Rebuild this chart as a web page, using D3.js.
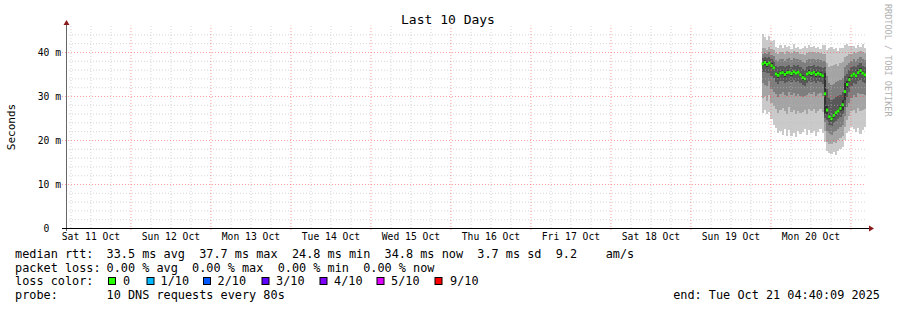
<!DOCTYPE html>
<html>
<head>
<meta charset="utf-8">
<script src="https://cdn.jsdelivr.net/npm/d3@7"></script>
<style>
body { margin: 0; background: #fff; }
text { font-family: "DejaVu Sans Mono", monospace; white-space: pre; }
</style>
</head>
<body>
<div id="chart"></div>
<script>
// time window of the graph and the step of the smoke columns
const startTime = new Date(2025, 9, 11, 4, 40, 9);
const endTime = new Date(2025, 9, 21, 4, 40, 9);
const firstStep = new Date(2025, 9, 19, 21, 20, 0);
const stepMinutes = 40;

// median rtt per step (ms)
const median = [37.3,37.6,37.2,37.5,36.9,36.4,35.0,34.7,35.2,35.3,34.9,35.3,35.4,35.1,35.5,35.2,35.4,34.8,34.2,33.9,35.0,35.3,35.1,35.4,34.9,35.2,34.9,34.6,30.5,26.8,25.3,24.8,25.6,26.2,26.6,27.2,28.0,31.0,32.6,33.7,34.6,35.0,34.6,35.3,35.8,35.2,34.8];

// the 10 sorted pings per step (ms), ping1 = fastest
const ping1 = [26.2,26.8,25.9,26.4,24.8,23.5,22.8,21.5,22.0,21.2,22.4,21.0,22.2,20.8,21.6,20.6,22.0,21.4,21.9,22.5,21.2,22.3,21.5,22.0,21.0,21.8,22.4,21.6,19.5,17.5,17.0,16.8,17.2,16.6,17.4,18.0,18.5,20.0,21.5,22.0,23.0,22.5,21.8,22.8,21.4,22.2,23.0];
const ping2 = [29.5,30.0,28.8,30.2,28.4,27.8,27.0,26.2,26.8,27.2,26.5,26.0,27.4,26.3,26.9,25.8,26.6,26.1,26.4,26.8,26.0,27.0,26.5,27.1,26.2,26.7,27.0,26.3,22.0,19.5,19.2,19.0,19.6,19.4,20.0,20.5,21.0,23.0,24.5,25.5,26.5,26.8,26.2,27.2,26.5,26.9,27.1];
const ping3 = [33.0,32.6,32.2,33.4,31.5,31.0,30.4,29.8,30.5,30.8,30.2,30.0,30.9,30.3,30.6,29.9,30.4,30.0,29.8,30.0,30.2,30.7,30.4,30.8,30.1,30.5,30.6,30.0,24.0,22.0,21.5,21.2,21.8,22.0,22.5,23.0,23.5,25.5,27.5,28.5,29.5,30.2,29.8,30.6,30.5,30.4,30.3];
const ping4 = [35.5,35.4,35.2,35.3,34.6,34.2,33.2,32.8,33.3,33.4,33.0,33.2,33.5,33.1,33.6,33.2,33.4,32.9,32.4,32.3,33.0,33.3,33.2,33.5,33.0,33.3,33.1,32.8,25.0,24.5,23.5,23.2,23.8,24.3,24.7,25.2,25.8,27.5,29.8,31.0,32.3,33.0,32.7,33.3,33.6,33.2,33.0];
const ping5 = [36.9,37.1,36.7,37.0,36.4,35.9,34.5,34.2,34.7,34.8,34.4,34.8,34.9,34.6,35.0,34.7,34.9,34.3,33.7,33.4,34.5,34.8,34.6,34.9,34.4,34.7,34.4,34.1,25.8,25.8,24.8,24.3,25.1,25.7,26.1,26.7,26.8,29.0,31.8,33.1,34.1,34.5,34.1,34.8,35.3,34.7,34.3];
const ping6 = [37.7,38.1,37.7,38.0,37.4,36.9,35.5,35.2,35.7,35.8,35.4,35.8,35.9,35.6,36.0,35.7,35.9,35.3,34.7,34.4,35.5,35.8,35.6,35.9,35.4,35.7,35.4,35.1,35.2,27.8,25.8,25.3,26.1,26.7,27.1,27.7,29.2,33.0,33.4,34.3,35.1,35.5,35.1,35.8,36.3,35.7,35.3];
const ping7 = [38.6,38.8,38.6,38.8,38.3,37.9,36.8,36.5,36.8,36.9,36.6,36.9,37.0,36.7,37.1,36.8,37.0,36.6,36.2,36.0,36.7,36.9,36.8,37.0,36.6,36.8,36.6,36.4,36.5,31.5,29.5,29.0,29.3,29.8,30.0,30.2,31.0,34.5,35.0,35.8,36.5,36.8,36.5,37.0,37.4,36.9,36.6];
const ping8 = [39.6,39.8,39.5,39.9,39.3,39.0,38.2,38.0,38.3,38.4,38.0,38.5,38.6,38.2,38.7,38.3,38.5,38.1,37.8,37.6,38.2,38.4,38.3,38.5,38.1,38.3,38.1,38.0,38.0,34.5,33.0,32.5,32.8,33.2,33.5,33.7,34.0,36.5,37.0,37.6,38.0,38.3,38.0,38.5,38.8,38.4,38.1];
const ping9 = [41.0,40.8,40.5,41.2,40.6,40.4,39.8,39.5,39.9,40.0,39.6,40.2,40.1,39.8,40.3,39.9,40.0,39.6,39.5,39.4,39.8,40.0,39.9,40.1,39.7,39.9,39.7,39.6,39.5,37.5,36.5,36.8,37.0,37.3,36.8,37.5,37.8,38.8,39.2,39.5,39.6,39.9,39.7,40.1,40.3,40.0,39.7];
const ping10 = [44.2,43.5,42.8,43.6,42.5,42.8,41.2,40.8,41.5,41.0,41.7,41.1,41.4,40.7,41.8,40.9,41.2,40.6,41.0,41.3,40.8,41.6,41.1,41.4,40.9,41.2,40.7,41.5,41.5,40.5,40.8,41.2,40.6,41.0,40.2,41.0,40.8,41.5,41.8,41.3,41.4,41.4,40.8,41.6,41.2,41.8,41.0];

const yTicks = [0, 10, 20, 30, 40];

const legendRtt = "33.5 ms avg  37.7 ms max  24.8 ms min  34.8 ms now  3.7 ms sd  9.2    am/s";
const legendLoss = "0.00 % avg  0.00 % max  0.00 % min  0.00 % now";
const lossLabels = ["0", "1/10", "2/10", "3/10", "4/10", "5/10", "9/10"];
const lossColors = ["#26ff00", "#00b8ff", "#0059ff", "#5e00ff", "#7e00ff", "#dd00ff", "#ff0000"];
const probeText = "10 DNS requests every 80s";
const endText = "end: Tue Oct 21 04:40:09 2025";

const smokeColors = ["#cacaca", "#a4a4a4", "#7e7e7e", "#585858", "#323232"];

const W = 897, H = 310;

const svg = d3.select("#chart").append("svg")
    .attr("width", W)
    .attr("height", H);

svg.append("rect").attr("width", W).attr("height", H).attr("fill", "#fff");

const x = d3.scaleTime().domain([startTime, endTime]).range([66, 866]);
const y = d3.scaleLinear().domain([0, 46]).range([228, 25.6]);

const pings = [ping1, ping2, ping3, ping4, ping5, ping6, ping7, ping8, ping9, ping10];
const rows = median.map((m, i) => ({
    t: d3.timeMinute.offset(firstStep, i * stepMinutes),
    t2: d3.timeMinute.offset(firstStep, (i + 1) * stepMinutes),
    med: m,
    p: pings.map(a => a[i])
}));
// closing point for the last step
const last = rows[rows.length - 1];
const stepRows = rows.concat([{ t: last.t2, med: last.med, p: last.p }]);

svg.append("clipPath").attr("id", "plot")
  .append("rect").attr("x", 66).attr("y", y(46)).attr("width", 800).attr("height", y(0) - y(46));

const plot = svg.append("g").attr("clip-path", "url(#plot)");

// smoke: outer pair lightest, inner pair darkest
for (let k = 0; k < 5; k++) {
    const area = d3.area()
        .x(d => x(d.t))
        .y0(d => y(d.p[k]))
        .y1(d => y(d.p[9 - k]))
        .curve(d3.curveStepAfter);
    plot.append("path")
        .datum(stepRows)
        .attr("d", area)
        .attr("fill", smokeColors[k])
        .attr("shape-rendering", "crispEdges");
}

// median markers
plot.selectAll(".med")
    .data(rows)
    .enter()
    .append("rect")
    .attr("class", "med")
    .attr("x", d => x(d.t))
    .attr("width", d => x(d.t2) - x(d.t))
    .attr("y", d => y(d.med) - 1.5)
    .attr("height", 3)
    .attr("fill", lossColors[0]);

// grid
const minorHours = d3.timeHour.every(6).range(startTime, endTime).filter(d => d.getHours() !== 0);
const days = d3.timeDay.range(startTime, endTime);
const noons = d3.timeHour.range(startTime, endTime).filter(d => d.getHours() === 12);
const minorY = d3.range(2, 46, 2).filter(v => v % 10 !== 0);

svg.append("g")
    .attr("class", "grid-x")
    .attr("transform", "translate(0," + y(0) + ")")
    .call(d3.axisBottom(x).tickValues(minorHours).tickSize(-(y(0) - y(46))).tickFormat(""))
    .call(g => g.select(".domain").remove())
    .selectAll("line")
    .attr("stroke", "rgba(186,186,186,0.6)")
    .attr("stroke-dasharray", "1,2");

svg.append("g")
    .attr("class", "grid-y")
    .attr("transform", "translate(66,0)")
    .call(d3.axisLeft(y).tickValues(minorY).tickSize(-800).tickFormat(""))
    .call(g => g.select(".domain").remove())
    .selectAll("line")
    .attr("stroke", "rgba(186,186,186,0.6)")
    .attr("stroke-dasharray", "1,2");

svg.append("g")
    .attr("class", "mgrid-x")
    .attr("transform", "translate(0," + (y(0) + 2) + ")")
    .call(d3.axisBottom(x).tickValues(days).tickSize(-(y(0) + 2 - y(46))).tickFormat(""))
    .call(g => g.select(".domain").remove())
    .selectAll("line")
    .attr("stroke", "rgba(255,64,64,0.5)")
    .attr("stroke-dasharray", "1,2");

svg.append("g")
    .attr("class", "mgrid-y")
    .attr("transform", "translate(62,0)")
    .call(d3.axisLeft(y).tickValues(yTicks.filter(v => v > 0)).tickSize(-804).tickFormat(""))
    .call(g => g.select(".domain").remove())
    .selectAll("line")
    .attr("stroke", "rgba(255,64,64,0.5)")
    .attr("stroke-dasharray", "1,2");

// axes
svg.append("line")
    .attr("x1", 66.5).attr("x2", 66.5)
    .attr("y1", 231).attr("y2", 24)
    .attr("stroke", "#666").attr("stroke-width", 1);
svg.append("line")
    .attr("x1", 62).attr("x2", 869)
    .attr("y1", 228.5).attr("y2", 228.5)
    .attr("stroke", "#000").attr("stroke-width", 1);
svg.append("path")
    .attr("d", "M63.5,25 L66.5,20 L69.5,25 Z")
    .attr("fill", "#8b1a1a");
svg.append("path")
    .attr("d", "M869,225.5 L874,228.5 L869,231.5 Z")
    .attr("fill", "#8b1a1a");

// y labels
svg.append("g").selectAll("text")
    .data(yTicks)
    .enter()
    .append("text")
    .attr("x", 61)
    .attr("y", d => y(d) + 3.5)
    .attr("text-anchor", "end")
    .attr("font-size", "9.7px")
    .attr("fill", "#000")
    .text(d => d === 0 ? "0  " : d + " m");

// x labels at noon of each day
const dayFormat = d3.timeFormat("%a %d %b");
svg.append("g")
    .attr("transform", "translate(0," + y(0) + ")")
    .call(d3.axisBottom(x).tickValues(noons).tickSize(0).tickPadding(5).tickFormat(dayFormat))
    .call(g => g.select(".domain").remove())
    .selectAll("text")
    .attr("font-family", "DejaVu Sans Mono")
    .attr("font-size", "9.7px")
    .attr("fill", "#000");

// title and side texts
svg.append("text")
    .attr("x", 448).attr("y", 23.5)
    .attr("text-anchor", "middle")
    .attr("font-size", "13px")
    .attr("fill", "#000")
    .text("Last 10 Days");

svg.append("text")
    .attr("transform", "translate(15,127) rotate(-90)")
    .attr("text-anchor", "middle")
    .attr("font-size", "11px")
    .attr("fill", "#000")
    .text("Seconds");

svg.append("text")
    .attr("transform", "translate(885,4) rotate(90)")
    .attr("font-size", "8.5px")
    .attr("fill", "#b0b0b0")
    .text("RRDTOOL / TOBI OETIKER");

// legend
const lg = svg.append("g").attr("font-size", "11.85px").attr("fill", "#000");
const lineY = [257.5, 271.5, 285, 298.5];
lg.append("text").attr("x", 15).attr("y", lineY[0]).text("median rtt:");
lg.append("text").attr("x", 106.5).attr("y", lineY[0]).text(legendRtt);
lg.append("text").attr("x", 15).attr("y", lineY[1]).text("packet loss:");
lg.append("text").attr("x", 106.5).attr("y", lineY[1]).text(legendLoss);
lg.append("text").attr("x", 15).attr("y", lineY[2]).text("loss color:");
lg.append("text").attr("x", 15).attr("y", lineY[3]).text("probe:");
lg.append("text").attr("x", 106.5).attr("y", lineY[3]).text(probeText);
lg.append("text").attr("x", 880).attr("y", lineY[3]).attr("text-anchor", "end").text(endText);

const boxX = [108.5, 147, 203.5, 262, 320, 377, 435];
const labX = [123, 160.5, 217.5, 276, 334, 391, 450];
lossLabels.forEach((l, i) => {
    lg.append("rect")
        .attr("x", boxX[i]).attr("y", 277.5)
        .attr("width", 7).attr("height", 7)
        .attr("fill", lossColors[i])
        .attr("stroke", "#000").attr("stroke-width", 1);
    lg.append("text").attr("x", labX[i]).attr("y", lineY[2]).text(l);
});
</script>
</body>
</html>
